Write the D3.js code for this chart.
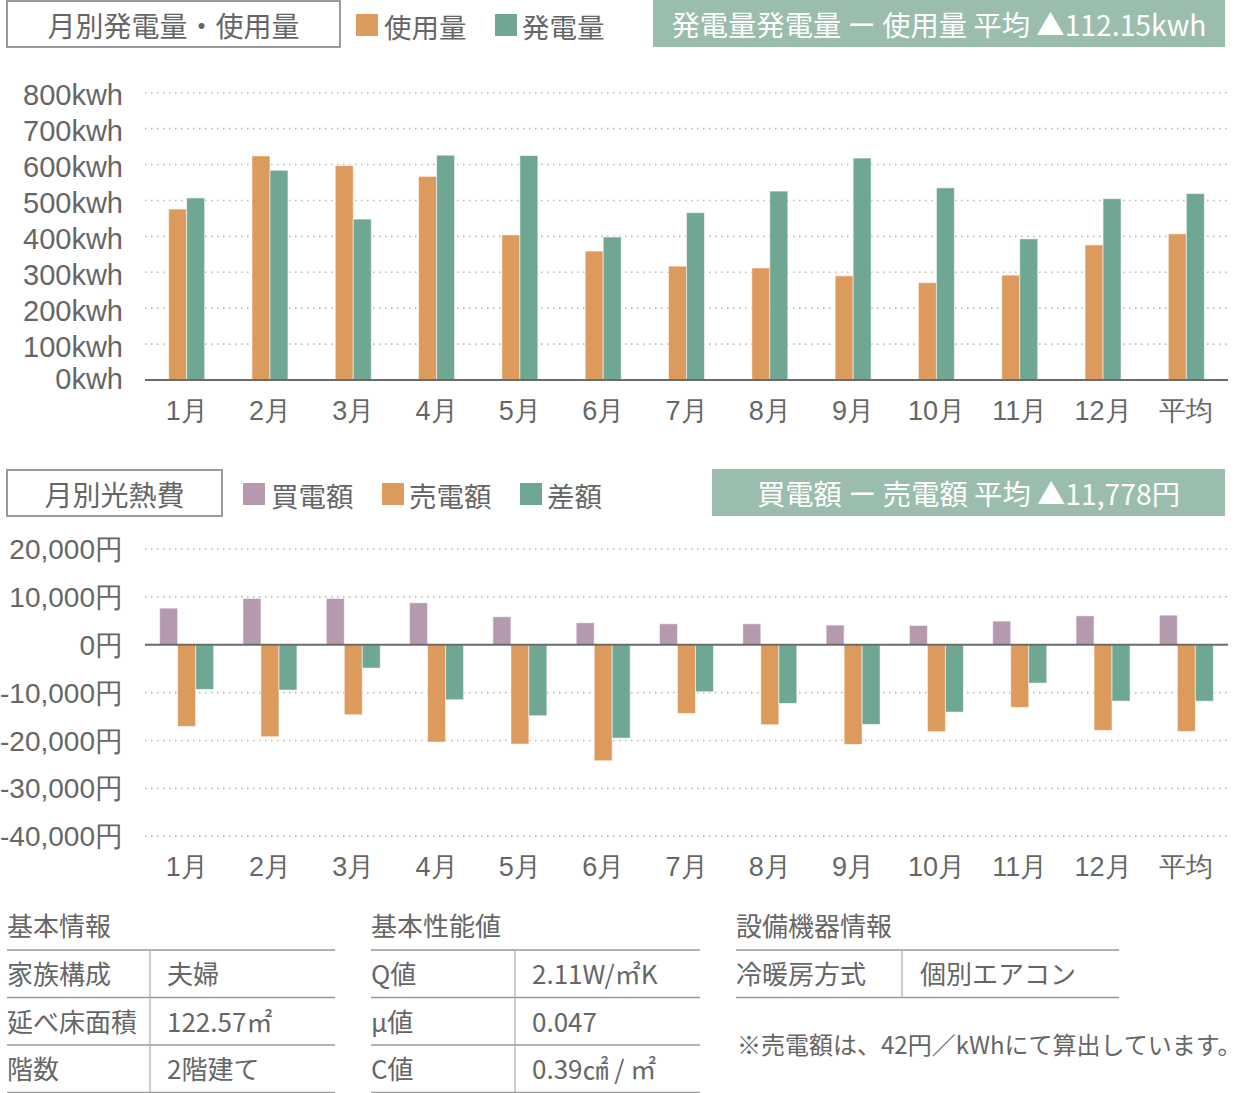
<!DOCTYPE html>
<html lang="ja">
<head>
<meta charset="utf-8">
<script src="https://cdn.jsdelivr.net/npm/d3@7"></script>
<style>
  html, body { margin: 0; padding: 0; background: #fff; }
  svg { display: block; font-family: "Noto Sans CJK JP", "Noto Sans", sans-serif; }
  text { fill: #666; }
</style>
</head>
<body>
<svg id="chart" width="1243" height="1093"></svg>
<script>
// ---- data ----
const months = ['1月','2月','3月','4月','5月','6月','7月','8月','9月','10月','11月','12月','平均'];
const usage      = [476, 624, 597, 567, 404, 359, 317, 312, 290, 271, 292, 376, 407];
const generation = [507, 584, 448, 626, 625, 398, 466, 526, 618, 535, 393, 505, 519];
const buyAmount  = [7650, 9670, 9670, 8770, 5850, 4590, 4380, 4380, 4110, 4040, 4940, 6050, 6180];
const sellAmount = [-17050, -19210, -14610, -20320, -20740, -24220, -14340, -16700, -20810, -18160, -13080, -17880, -18090];
const diffAmount = [-9330, -9460, -4870, -11480, -14820, -19490, -9810, -12250, -16630, -14060, -8000, -11760, -11778];
const kwhTicks = [0, 100, 200, 300, 400, 500, 600, 700, 800];
const yenTicks = [20000, 10000, 0, -10000, -20000, -30000, -40000];

const topTitle = '月別発電量・使用量';
const topLegend = ['使用量', '発電量'];
const topAverage = '発電量発電量 ー 使用量 平均 ▲112.15kwh';
const botTitle = '月別光熱費';
const botLegend = ['買電額', '売電額', '差額'];
const botAverage = '買電額 ー 売電額 平均 ▲11,778円';

const infoBasic = [['家族構成','夫婦'], ['延べ床面積','122.57㎡'], ['階数','2階建て']];
const infoPerf  = [['Q値','2.11W/㎡K'], ['μ値','0.047'], ['C値','0.39㎠ / ㎡']];
const infoEquip = [['冷暖房方式','個別エアコン']];
const note = '※売電額は、42円／kWhにて算出しています。';

// ---- styles ----
const C_ORANGE = '#DC9B5D', C_GREEN = '#6FA793', C_PURPLE = '#B499AF', C_BOX = '#9BBDAE';
const C_TEXT = '#666', C_AXIS = '#6b6b6b', C_GRID = '#bdbdbd';

const svg = d3.select('#chart');
const X0 = 145, X1 = 1228;

// ---- header helper ----
function header(y0, h, titleW, title, legend, colors, legendX, textX, avgX, avgText) {
  const g = svg.append('g');
  g.append('rect').attr('x', 7).attr('y', y0 + 1).attr('width', titleW).attr('height', h - 1)
    .attr('fill', '#fff').attr('stroke', '#9a9a9a').attr('stroke-width', 2);
  g.append('text').attr('x', 7 + titleW / 2).attr('y', y0 + h / 2 + 1)
    .attr('text-anchor', 'middle').attr('dominant-baseline', 'central')
    .attr('font-size', 28).text(title);
  legend.forEach((l, i) => {
    g.append('rect').attr('x', legendX[i]).attr('y', y0 + 14).attr('width', 22).attr('height', 22)
      .attr('fill', colors[i]);
    g.append('text').attr('x', textX[i]).attr('y', y0 + 26)
      .attr('dominant-baseline', 'central').attr('font-size', 27.5).text(l);
  });
  g.append('rect').attr('x', avgX).attr('y', y0).attr('width', 1225 - avgX).attr('height', h)
    .attr('fill', C_BOX);
  g.append('text').attr('x', (avgX + 1225) / 2).attr('y', y0 + h / 2)
    .attr('text-anchor', 'middle').attr('dominant-baseline', 'central')
    .attr('font-size', 28.3).style('fill', '#fff').text(avgText);
}

header(0, 47, 333, topTitle, topLegend, [C_ORANGE, C_GREEN], [356, 495], [384, 522], 653, topAverage);
header(469, 47, 215, botTitle, botLegend, [C_PURPLE, C_ORANGE, C_GREEN], [243, 382, 520], [271, 409, 547], 712, botAverage);

// ---- shared x scale ----
const x = d3.scaleBand().domain(months).range([X0, X1]).paddingInner(0.568).paddingOuter(0.284);
const center = m => x(m) + x.bandwidth() / 2;
const bw = 18;

function gridLines(g, scale, ticks) {
  g.append('g').selectAll('line').data(ticks).join('line')
    .attr('x1', X0).attr('x2', X1)
    .attr('y1', d => scale(d)).attr('y2', d => scale(d))
    .attr('stroke', C_GRID).attr('stroke-width', 1.6)
    .attr('stroke-dasharray', '1.6 4.4');
}

function yAxis(g, scale, ticks, fmt, dyFn, size) {
  const ax = g.append('g').attr('transform', `translate(123,0)`)
    .call(d3.axisLeft(scale).tickValues(ticks).tickFormat(fmt).tickSize(0).tickPadding(0));
  ax.select('.domain').remove();
  ax.selectAll('text').attr('dy', null).attr('y', dyFn).attr('dominant-baseline', 'central')
    .attr('font-size', size).attr('font-family', null).style('fill', C_TEXT);
}

function xAxis(g, yPos, labelOffset) {
  const ax = g.append('g').attr('transform', `translate(0,${yPos})`)
    .call(d3.axisBottom(x).tickSize(0).tickPadding(0));
  ax.select('.domain').remove();
  ax.selectAll('text').attr('dy', null).attr('y', labelOffset).attr('dominant-baseline', 'central')
    .attr('font-size', 27).attr('font-family', null).style('fill', C_TEXT);
}

// ---- top chart ----
const yTop = d3.scaleLinear().domain([0, 800]).range([380, 92.7]);
const gTop = svg.append('g');
gridLines(gTop, yTop, kwhTicks.filter(d => d > 0));
const topSeries = [{vals: usage, color: C_ORANGE}, {vals: generation, color: C_GREEN}];
topSeries.forEach((s, si) => {
  gTop.append('g').selectAll('rect').data(months).join('rect')
    .attr('x', m => center(m) - bw + si * bw)
    .attr('width', bw)
    .attr('y', (m, i) => yTop(s.vals[i]))
    .attr('height', (m, i) => yTop(0) - yTop(s.vals[i]))
    .attr('fill', s.color)
    .attr('stroke', 'rgba(255,255,255,0.55)').attr('stroke-width', 1);
});
gTop.append('line').attr('x1', X0).attr('x2', X1).attr('y1', yTop(0)).attr('y2', yTop(0))
  .attr('stroke', C_AXIS).attr('stroke-width', 2.2);
yAxis(gTop, yTop, kwhTicks, d => d + 'kwh', d => (d === 0 ? -2 : 2), 29);
xAxis(gTop, 380, 31);

// ---- bottom chart ----
const yBot = d3.scaleLinear().domain([-40000, 20000]).range([836.3, 549]);
const gBot = svg.append('g');
gridLines(gBot, yBot, yenTicks.filter(d => d !== 0));
const botSeries = [{vals: buyAmount, color: C_PURPLE}, {vals: sellAmount, color: C_ORANGE}, {vals: diffAmount, color: C_GREEN}];
botSeries.forEach((s, si) => {
  gBot.append('g').selectAll('rect').data(months).join('rect')
    .attr('x', m => center(m) - 1.5 * bw + si * bw)
    .attr('width', bw)
    .attr('y', (m, i) => Math.min(yBot(s.vals[i]), yBot(0)))
    .attr('height', (m, i) => Math.abs(yBot(s.vals[i]) - yBot(0)))
    .attr('fill', s.color)
    .attr('stroke', 'rgba(255,255,255,0.55)').attr('stroke-width', 1);
});
gBot.append('line').attr('x1', X0).attr('x2', X1).attr('y1', yBot(0)).attr('y2', yBot(0))
  .attr('stroke', C_AXIS).attr('stroke-width', 2.2);
const yenFmt = d => d3.format(',')(d).replace('\u2212', '-') + '円';
yAxis(gBot, yBot, yenTicks, yenFmt, () => 0, 28);
xAxis(gBot, 836.3, 31);

// ---- info tables ----
function table(x0, x1, divX, col2X, title, rows) {
  const g = svg.append('g');
  g.append('text').attr('x', x0).attr('y', 924).attr('dominant-baseline', 'central')
    .attr('font-size', 26).text(title);
  const rowH = 47.5, top = 950;
  const lines = d3.range(rows.length + 1).map(i => top + i * rowH);
  g.selectAll('line.h').data(lines).join('line').attr('class', 'h')
    .attr('x1', x0).attr('x2', x1).attr('y1', d => d).attr('y2', d => d)
    .attr('stroke', '#999').attr('stroke-width', 1.5);
  g.append('line').attr('x1', divX).attr('x2', divX).attr('y1', top).attr('y2', top + rows.length * rowH)
    .attr('stroke', '#aaa').attr('stroke-width', 1.2);
  rows.forEach((r, i) => {
    const cy = top + i * rowH + rowH / 2 - 1;
    g.append('text').attr('x', x0).attr('y', cy).attr('dominant-baseline', 'central')
      .attr('font-size', 26).text(r[0]);
    g.append('text').attr('x', col2X).attr('y', cy).attr('dominant-baseline', 'central')
      .attr('font-size', 26).text(r[1]);
  });
}
table(7, 335, 150, 167, '基本情報', infoBasic);
table(371, 700, 515, 532, '基本性能値', infoPerf);
table(736, 1119, 902, 920, '設備機器情報', infoEquip);
svg.append('text').attr('x', 737).attr('y', 1043).attr('dominant-baseline', 'central')
  .attr('font-size', 24).text(note);
</script>
</body>
</html>
